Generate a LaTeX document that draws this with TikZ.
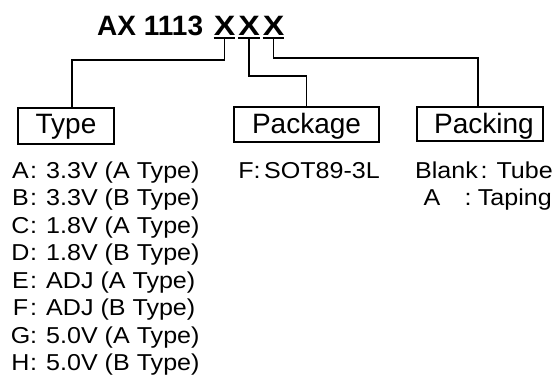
\documentclass[tikz,border=0pt]{standalone}
\usepackage{fontspec}
\setmainfont{Liberation Sans}
\newfontfamily\listfont[FakeStretch=1.09]{Liberation Sans}
\newfontfamily\xfont[FakeStretch=1.15,UprightFont=* Bold]{Liberation Sans}
\tikzset{
  lst/.style={font=\listfont\fontsize{23}{25}\selectfont, inner sep=0pt, anchor=base},
  lstw/.style={lst, anchor=base west},
  lste/.style={lst, anchor=base east},
  box/.style={draw, line width=1.7pt, inner sep=0pt, font=\fontsize{28}{30}\selectfont, anchor=base},
  xch/.style={font=\xfont\fontsize{28}{30}\selectfont, inner sep=0pt, anchor=base, text depth=3pt},
  conn/.style={line width=1.7pt},
  uline/.style={line width=1.9pt}
}
\begin{document}
\begin{tikzpicture}[x=1pt,y=-1pt]
\useasboundingbox (0,0) rectangle (554,381);
% title
\node[font=\bfseries\fontsize{28}{30}\selectfont, inner sep=0pt, anchor=base west] (title) at (97,35) {AX 1113};
\node[xch] (x1) at (224.5,35) {X};
\node[xch] (x2) at (249,35) {X};
\node[xch] (x3) at (273.5,35) {X};
\foreach \n in {x1,x2,x3} \draw[uline] (\n.south west) -- (\n.south east);
% boxes
\node[box, minimum width=96pt, text height=25pt, text depth=11pt] (type) at (66,133) {Type};
\node[box, minimum width=145pt, text height=26pt, text depth=9pt] (pkg) at (306.5,133) {Package};
\node[box, minimum width=126pt, text height=26pt, text depth=8pt] (pack) at (480,133) {\hspace*{8pt}Packing};
% connectors
\draw[conn] (x1.south) -- ++(0,22) -| ([xshift=6pt]type.north);
\draw[conn] (x2.south) -- ++(0,38) -| (pkg.north);
\draw[conn] (x3.south) -- ++(0,20) -| ([xshift=-2pt]pack.north);
% type list
\foreach \l/\t [count=\i from 0] in {A/3.3V (A Type),B/3.3V (B Type),C/1.8V (A Type),D/1.8V (B Type),E/ADJ (A Type),F/ADJ (B Type),G/5.0V (A Type),H/5.0V (B Type)}{
  \pgfmathsetmacro{\yy}{178+27.5*\i}
  \node[lst] (L\i) at (20.5,\yy) {\l};
  \node[lst] (C\i) at (33.5,\yy) {:};
  \node[lstw] (T\i) at (46,\yy) {\t};
}
% package list
\node[lst] (pF) at (246,178) {F};
\node[lst] (pC) at (257,178) {:};
\node[lstw] (pT) at (264,178) {SOT89-3L};
% packing list
\node[lstw] (kB) at (415,178) {Blank};
\node[lst] (kC1) at (484,178) {:};
\node[lste] (kT1) at (553,178) {Tube};
\node[lst] (kA) at (432,205.5) {A};
\node[lst] (kC2) at (468,205.5) {:};
\node[lste] (kT2) at (552,205.5) {Taping};
\end{tikzpicture}
\end{document}
